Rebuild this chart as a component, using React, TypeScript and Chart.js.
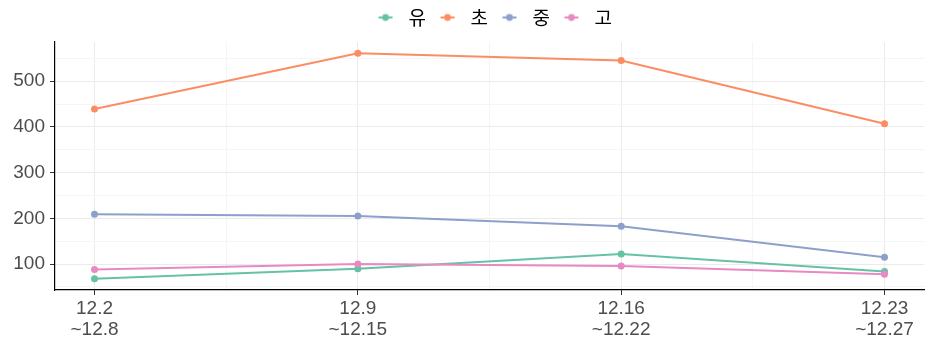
import React, { useEffect, useRef } from "react";
import { Chart, registerables } from "chart.js";

Chart.register(...registerables);

const categories: string[][] = [
  ["12.2", "~12.8"],
  ["12.9", "~12.15"],
  ["12.16", "~12.22"],
  ["12.23", "~12.27"],
];
const seriesNames = ["유", "초", "중", "고"];
const yuValues = [68, 90, 122, 84];
const choValues = [439, 561, 545, 407];
const jungValues = [209, 205, 183, 115];
const goValues = [88, 100, 96, 78];
const seriesColors = ["#66C2A5", "#FC8D62", "#8DA0CB", "#E78AC3"];
const yMajorTicks = [100, 200, 300, 400, 500];

const W = 936;
const H = 351;

function makeKey(color: string): HTMLCanvasElement {
  const c = document.createElement("canvas");
  c.width = 16;
  c.height = 10;
  const ctx = c.getContext("2d")!;
  ctx.strokeStyle = color;
  ctx.lineWidth = 2;
  ctx.beginPath();
  ctx.moveTo(1, 5);
  ctx.lineTo(15, 5);
  ctx.stroke();
  ctx.fillStyle = color;
  ctx.beginPath();
  ctx.arc(8, 5, 3.4, 0, Math.PI * 2);
  ctx.fill();
  return c;
}

export default function App() {
  const ref = useRef<HTMLCanvasElement | null>(null);

  useEffect(() => {
    document.body.style.margin = "0";
    const canvas = ref.current!;
    const allValues = [yuValues, choValues, jungValues, goValues];
    const datasets = allValues.map((vals, i) => ({
      label: seriesNames[i],
      data: vals.map((v, j) => ({ x: j + 1, y: v })),
      borderColor: seriesColors[i],
      backgroundColor: seriesColors[i],
      borderWidth: 2,
      pointRadius: 3.5,
      pointBorderWidth: 0,
      tension: 0,
      order: 3 - i,
    }));
    const keys = seriesColors.map(makeKey);

    const flat = allValues.flat();
    const dmin = Math.min(...flat);
    const dmax = Math.max(...flat);
    const ypad = (dmax - dmin) * 0.05;
    const nCat = categories.length;
    const xpad = (nCat - 1) * 0.05;

    const isMajorY = (v: number) => Math.abs(v % 100) < 1e-6;
    const isMajorX = (v: number) => Math.abs(v - Math.round(v)) < 1e-6;

    const chart = new Chart(canvas, {
      type: "line",
      data: { datasets },
      options: {
        animation: false,
        responsive: false,
        layout: { padding: { left: 0, right: 12, top: 0, bottom: 0 } },
        plugins: {
          tooltip: { enabled: false },
          legend: {
            position: "top",
            align: "center",
            labels: {
              usePointStyle: true,
              pointStyleWidth: 27,
              padding: 8,
              color: "#000",
              font: { family: "'Noto Sans CJK KR', 'Liberation Sans'", size: 19 },
              generateLabels: (ch: any) =>
                ch.data.datasets.map((ds: any, i: number) => ({
                  text: ds.label,
                  fillStyle: ds.backgroundColor,
                  strokeStyle: ds.borderColor,
                  lineWidth: 0,
                  pointStyle: keys[i],
                  hidden: false,
                  datasetIndex: i,
                  fontColor: "#000",
                })),
            },
          },
        },
        scales: {
          x: {
            type: "linear",
            min: 1 - xpad,
            max: nCat + xpad,
            afterBuildTicks: (scale: any) => {
              const t: any[] = [];
              for (let v = 1; v <= nCat + 1e-9; v += 0.5) t.push({ value: v });
              scale.ticks = t;
            },
            afterFit: (scale: any) => {
              scale.height = 61;
            },
            border: { display: true, color: "#000", width: 1.2 },
            grid: {
              color: (ctx: any) => (isMajorX(ctx.tick?.value) ? "#ebebeb" : "#f5f5f5"),
              lineWidth: 1,
              tickColor: (ctx: any) => (isMajorX(ctx.tick?.value) ? "#333" : "rgba(0,0,0,0)"),
              tickLength: 5,
              drawTicks: true,
            },
            ticks: {
              autoSkip: false,
              maxRotation: 0,
              padding: 4,
              color: "#4d4d4d",
              font: { family: "'Liberation Sans', Arial", size: 19, lineHeight: 1.08 },
              callback: (v: any) => {
                const n = Number(v);
                if (!isMajorX(n)) return "";
                return categories[Math.round(n) - 1];
              },
            },
          },
          y: {
            type: "linear",
            min: dmin - ypad,
            max: dmax + ypad,
            afterBuildTicks: (scale: any) => {
              const t: any[] = [];
              for (let v = 50; v <= 550; v += 50) t.push({ value: v });
              scale.ticks = t;
            },
            afterFit: (scale: any) => {
              scale.width = 55;
            },
            border: { display: true, color: "#000", width: 1.2 },
            grid: {
              color: (ctx: any) => (isMajorY(ctx.tick?.value) ? "#ebebeb" : "#f5f5f5"),
              lineWidth: 1,
              tickColor: (ctx: any) =>
                yMajorTicks.includes(ctx.tick?.value) ? "#333" : "rgba(0,0,0,0)",
              tickLength: 5,
              drawTicks: true,
            },
            ticks: {
              autoSkip: false,
              padding: 5,
              color: "#4d4d4d",
              font: { family: "'Liberation Sans', Arial", size: 19 },
              callback: (v: any) => (yMajorTicks.includes(Number(v)) ? String(v) : ""),
            },
          },
        },
      },
      plugins: [
        {
          id: "legendHeight",
          beforeInit(ch: any) {
            const lg = ch.legend;
            if (!lg) return;
            const fit = lg.fit;
            lg.fit = function () {
              fit.call(this);
              this.height = 42;
            };
          },
          afterLayout(ch: any) {
            const lg = ch.legend;
            if (lg) lg.left += 60;
          },
        },
      ],
    } as any);
    return () => chart.destroy();
  }, []);

  return (
    <div style={{ width: W, height: H, background: "#fff" }}>
      <canvas ref={ref} width={W} height={H} style={{ width: W, height: H, display: "block" }} />
    </div>
  );
}
